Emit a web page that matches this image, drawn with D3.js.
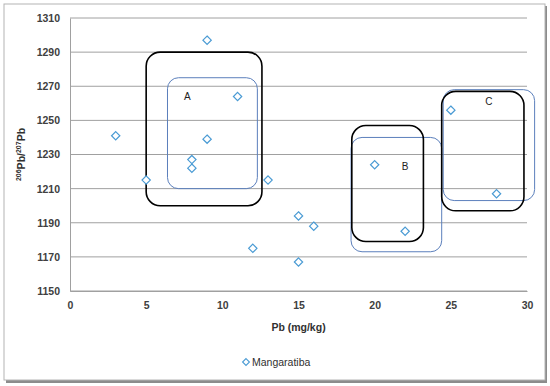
<!DOCTYPE html>
<html>
<head>
<meta charset="utf-8">
<script src="https://cdn.jsdelivr.net/npm/d3@7"></script>
<style>
  body { margin: 0; background: #fff; }
  text { font-family: "Liberation Sans", Arial, sans-serif; }
</style>
</head>
<body>
<script>
let width = 550;
let height = 386;

// Mangaratiba samples
let pbValues = [3, 5, 9, 8, 8, 9, 11, 13, 12, 15, 16, 15, 20, 22, 25, 28];
let ratioValues = [1241, 1215, 1297, 1227, 1222, 1239, 1264, 1215, 1175, 1194, 1188, 1167, 1224, 1185, 1256, 1207];

let xTicks = [0, 5, 10, 15, 20, 25, 30];
let yTicks = [1150, 1170, 1190, 1210, 1230, 1250, 1270, 1290, 1310];

// group outlines, in data units: [x0, x1, yTop, yBottom]
let groupNames = ["A", "B", "C"];
let blackBoxes = [[5.0, 12.6, 1290, 1200], [18.5, 23.2, 1247, 1179], [24.4, 29.8, 1267, 1197]];
let blueBoxes = [[6.4, 12.3, 1275, 1210], [18.45, 24.4, 1240, 1173], [24.5, 30.5, 1268, 1203]];
let labelPos = [[7.7, 1262], [22, 1221], [27.5, 1259]];

let svg = d3.select("body").append("svg")
  .attr("width", width)
  .attr("height", height);

// outer frame with a little shadow
svg.append("rect").attr("x", 6).attr("y", 6).attr("width", 541).attr("height", 377).attr("fill", "#8c8c8c");
svg.append("rect").attr("x", 4).attr("y", 4).attr("width", 541).attr("height", 376)
  .attr("fill", "#fff").attr("stroke", "#b4b4b4").attr("stroke-width", 1);

let x = d3.scaleLinear().domain([0, 30]).range([70, 527]);
let y = d3.scaleLinear().domain([1150, 1310]).range([291, 18]);

// grid
svg.append("g").selectAll("line").data(yTicks).enter().append("line")
  .attr("x1", x(0)).attr("x2", x(30))
  .attr("y1", d => y(d)).attr("y2", d => y(d))
  .attr("stroke", "#a0a0a0").attr("stroke-width", 1);

let xAxis = svg.append("g")
  .attr("transform", "translate(0," + y(1150) + ")")
  .call(d3.axisBottom(x).tickValues(xTicks).tickFormat(d3.format("d")).tickSize(0).tickPadding(11));
let yAxis = svg.append("g")
  .attr("transform", "translate(" + x(0) + ",0)")
  .call(d3.axisLeft(y).tickValues(yTicks).tickFormat(d3.format("d")).tickSize(0).tickPadding(10));

[xAxis, yAxis].forEach(function(a) {
  a.select(".domain").attr("stroke", "#a0a0a0");
  a.selectAll("text")
    .attr("font-family", "Liberation Sans, Arial, sans-serif")
    .attr("font-size", 10.5)
    .attr("font-weight", "bold")
    .attr("fill", "#404040");
});

// axis titles
svg.append("text")
  .attr("x", (x(0) + x(30)) / 2)
  .attr("y", 331)
  .attr("text-anchor", "middle")
  .attr("font-size", 10.5)
  .attr("font-weight", "bold")
  .attr("fill", "#303030")
  .text("Pb (mg/kg)");

let yTitle = svg.append("text")
  .attr("transform", "translate(25," + y(1230) + ") rotate(-90)")
  .attr("text-anchor", "middle")
  .attr("font-size", 10.5)
  .attr("font-weight", "bold")
  .attr("fill", "#303030");
yTitle.append("tspan").attr("font-size", 7).attr("dy", -4).text("206");
yTitle.append("tspan").attr("dy", 4).text("Pb/");
yTitle.append("tspan").attr("font-size", 7).attr("dy", -4).text("207");
yTitle.append("tspan").attr("dy", 4).text("Pb");

// group boxes
function drawBoxes(list, color, w, r) {
  svg.append("g").selectAll("rect").data(list).enter().append("rect")
    .attr("x", d => x(d[0]))
    .attr("y", d => y(d[2]))
    .attr("width", d => x(d[1]) - x(d[0]))
    .attr("height", d => y(d[3]) - y(d[2]))
    .attr("rx", r).attr("ry", r)
    .attr("fill", "none")
    .attr("stroke", color)
    .attr("stroke-width", w);
}
drawBoxes(blueBoxes, "#5b7fbc", 1, 11);
drawBoxes(blackBoxes, "#000", 1.6, 14);

svg.append("g").selectAll("text").data(groupNames).enter().append("text")
  .attr("x", (d, i) => x(labelPos[i][0]))
  .attr("y", (d, i) => y(labelPos[i][1]))
  .attr("text-anchor", "middle")
  .attr("font-size", 10)
  .attr("fill", "#222")
  .text(d => d);

// points
let diamond = d3.symbol().type(d3.symbolDiamond2).size(44);
let points = pbValues.map((v, i) => [v, ratioValues[i]]);
svg.append("g").selectAll("path").data(points).enter().append("path")
  .attr("d", diamond)
  .attr("transform", d => "translate(" + x(d[0]) + "," + y(d[1]) + ")")
  .attr("fill", "#fff")
  .attr("stroke", "#4a9bd4")
  .attr("stroke-width", 1.2);

// legend
svg.append("path")
  .attr("d", d3.symbol().type(d3.symbolDiamond2).size(30))
  .attr("transform", "translate(246,362)")
  .attr("fill", "#fff")
  .attr("stroke", "#4a9bd4")
  .attr("stroke-width", 1.1);
svg.append("text")
  .attr("x", 252).attr("y", 366)
  .attr("font-size", 10.5)
  .attr("fill", "#303030")
  .text("Mangaratiba");
</script>
</body>
</html>
